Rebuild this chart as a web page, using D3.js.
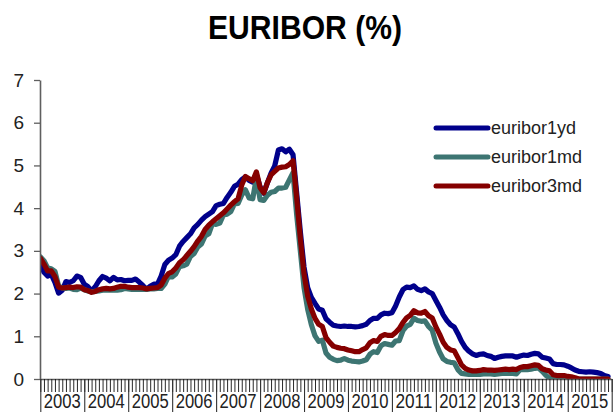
<!DOCTYPE html>
<html>
<head>
<meta charset="utf-8">
<script src="https://cdn.jsdelivr.net/npm/d3@7"></script>
<style>
  body { margin: 0; background: #fff; }
  svg { display: block; font-family: "Liberation Sans", Arial, sans-serif; }
</style>
</head>
<body>
<div id="chart"></div>
<script>
// Monthly values, Jan 2003 .. Dec 2015 (one row per year)
const years = ["2003", "2004", "2005", "2006", "2007", "2008", "2009",
               "2010", "2011", "2012", "2013", "2014", "2015"];

const euribor1yd = [
  2.71, 2.50, 2.41, 2.45, 2.26, 2.01, 2.08, 2.28, 2.26, 2.30, 2.41, 2.38,
  2.22, 2.16, 2.06, 2.16, 2.30, 2.40, 2.36, 2.30, 2.38, 2.32, 2.33, 2.30,
  2.31, 2.31, 2.34, 2.27, 2.19, 2.10, 2.17, 2.22, 2.22, 2.41, 2.68, 2.78,
  2.83, 2.91, 3.11, 3.22, 3.31, 3.40, 3.54, 3.62, 3.72, 3.80, 3.86, 3.92,
  4.06, 4.09, 4.11, 4.25, 4.37, 4.51, 4.56, 4.67, 4.73, 4.65, 4.61, 4.79,
  4.50, 4.35, 4.59, 4.82, 4.99, 5.36, 5.39, 5.32, 5.38, 5.25, 4.35, 3.45,
  2.62, 2.14, 1.91, 1.77, 1.64, 1.61, 1.41, 1.33, 1.26, 1.24, 1.23, 1.24,
  1.23, 1.23, 1.22, 1.23, 1.25, 1.28, 1.37, 1.42, 1.42, 1.50, 1.54, 1.53,
  1.55, 1.71, 1.92, 2.09, 2.15, 2.14, 2.18, 2.10, 2.07, 2.11, 2.04, 2.00,
  1.84, 1.68, 1.50, 1.37, 1.27, 1.22, 1.06, 0.88, 0.74, 0.65, 0.59, 0.55,
  0.58, 0.59, 0.55, 0.53, 0.48, 0.51, 0.53, 0.54, 0.54, 0.54, 0.51, 0.54,
  0.56, 0.55, 0.58, 0.60, 0.59, 0.51, 0.49, 0.47, 0.36, 0.34, 0.34, 0.33,
  0.30, 0.26, 0.21, 0.18, 0.17, 0.16, 0.17, 0.16, 0.15, 0.13, 0.08, 0.06
];

const euribor1md = [
  2.86, 2.77, 2.60, 2.58, 2.52, 2.18, 2.13, 2.12, 2.13, 2.10, 2.09, 2.13,
  2.09, 2.06, 2.04, 2.05, 2.06, 2.08, 2.08, 2.08, 2.08, 2.08, 2.09, 2.12,
  2.11, 2.10, 2.10, 2.10, 2.10, 2.10, 2.11, 2.11, 2.12, 2.12, 2.22, 2.41,
  2.39, 2.46, 2.63, 2.65, 2.69, 2.87, 2.94, 3.09, 3.16, 3.35, 3.40, 3.64,
  3.62, 3.65, 3.84, 3.86, 3.92, 4.10, 4.11, 4.31, 4.43, 4.24, 4.22, 4.71,
  4.20, 4.18, 4.30, 4.37, 4.39, 4.47, 4.47, 4.49, 4.66, 4.83, 3.84, 2.99,
  2.14, 1.63, 1.27, 1.01, 0.88, 0.91, 0.61, 0.51, 0.46, 0.43, 0.44, 0.48,
  0.44, 0.42, 0.41, 0.40, 0.42, 0.45, 0.58, 0.64, 0.62, 0.78, 0.83, 0.81,
  0.79, 0.89, 0.90, 1.13, 1.24, 1.28, 1.42, 1.37, 1.35, 1.36, 1.23, 1.14,
  0.84, 0.63, 0.47, 0.41, 0.39, 0.38, 0.22, 0.13, 0.12, 0.11, 0.11, 0.11,
  0.11, 0.12, 0.12, 0.12, 0.11, 0.12, 0.13, 0.13, 0.13, 0.13, 0.12, 0.22,
  0.22, 0.22, 0.23, 0.25, 0.26, 0.18, 0.09, 0.02, 0.01, 0.00, 0.01, 0.02,
  0.02, 0.01, 0.00, 0.00, 0.00, 0.00, 0.00, 0.00, 0.00, 0.00, 0.00, 0.00
];

const euribor3md = [
  2.83, 2.69, 2.53, 2.53, 2.40, 2.15, 2.13, 2.14, 2.15, 2.14, 2.16, 2.15,
  2.09, 2.07, 2.03, 2.05, 2.09, 2.11, 2.12, 2.11, 2.12, 2.15, 2.17, 2.17,
  2.15, 2.14, 2.14, 2.14, 2.13, 2.11, 2.12, 2.13, 2.14, 2.20, 2.36, 2.47,
  2.51, 2.60, 2.72, 2.79, 2.89, 2.99, 3.10, 3.23, 3.34, 3.50, 3.60, 3.68,
  3.75, 3.82, 3.89, 3.98, 4.07, 4.15, 4.22, 4.54, 4.74, 4.69, 4.64, 4.85,
  4.48, 4.36, 4.60, 4.78, 4.86, 4.94, 4.96, 4.97, 5.02, 5.11, 4.24, 3.29,
  2.46, 1.94, 1.64, 1.42, 1.28, 1.23, 0.97, 0.86, 0.77, 0.74, 0.72, 0.71,
  0.68, 0.66, 0.64, 0.64, 0.69, 0.73, 0.85, 0.90, 0.88, 1.00, 1.04, 1.02,
  1.02, 1.09, 1.18, 1.32, 1.43, 1.49, 1.60, 1.55, 1.54, 1.58, 1.48, 1.43,
  1.22, 1.05, 0.86, 0.74, 0.68, 0.66, 0.50, 0.33, 0.25, 0.21, 0.19, 0.19,
  0.20, 0.22, 0.21, 0.21, 0.20, 0.21, 0.22, 0.23, 0.22, 0.23, 0.22, 0.27,
  0.29, 0.29, 0.31, 0.33, 0.32, 0.24, 0.21, 0.19, 0.10, 0.08, 0.08, 0.08,
  0.06, 0.05, 0.03, 0.00, 0.00, 0.00, 0.00, 0.00, 0.00, 0.00, 0.00, 0.00
];

const seriesNames = ["euribor1yd", "euribor1md", "euribor3md"];
const seriesColors = ["#00008b", "#3d7572", "#850000"];
const yTicks = [0, 1, 2, 3, 4, 5, 6, 7];

// Size of the page
const width = 614;
const height = 412;

const svg = d3.select("#chart")
    .append("svg")
    .attr("width", width)
    .attr("height", height);

// Month index on x (0 = Jan 2003), percent on y
const nMonths = years.length * 12;
const x = d3.scaleLinear()
    .domain([0, nMonths])
    .range([40.3, 611.7]);

const y = d3.scaleLinear()
    .domain([0, 7])
    .range([379, 80]);

// Title
svg.append("text")
    .attr("x", 305)
    .attr("y", 39)
    .attr("text-anchor", "middle")
    .attr("font-size", 33)
    .attr("font-weight", "bold")
    .attr("textLength", 194)
    .attr("lengthAdjust", "spacingAndGlyphs")
    .attr("fill", "#000")
    .text("EURIBOR (%)");

// Lines, clipped at the zero line
svg.append("clipPath")
    .attr("id", "plot-clip")
    .append("rect")
    .attr("x", 40)
    .attr("y", 0)
    .attr("width", width - 40)
    .attr("height", y(0));

const line = d3.line()
    .x((d, i) => x(i))
    .y(d => y(d));

const allSeries = [euribor1yd, euribor1md, euribor3md];

svg.append("g")
    .attr("clip-path", "url(#plot-clip)")
    .selectAll("path")
    .data(allSeries)
    .enter()
    .append("path")
    .attr("fill", "none")
    .attr("stroke", (d, i) => seriesColors[i])
    .attr("stroke-width", 5.2)
    .attr("stroke-linejoin", "round")
    .attr("stroke-linecap", "round")
    .attr("d", line);

// Y axis
const yAxis = svg.append("g")
    .attr("transform", "translate(40,0)")
    .call(d3.axisLeft(y).tickValues(yTicks).tickFormat(d3.format("d"))
        .tickSize(6).tickSizeOuter(0).tickPadding(10));

yAxis.select(".domain").attr("stroke", "#5f5f5f").attr("stroke-width", 1.6);
yAxis.selectAll(".tick line").attr("stroke", "#5f5f5f").attr("stroke-width", 1.3);
yAxis.selectAll(".tick text")
    .attr("font-size", 19)
    .attr("font-family", "Liberation Sans, Arial, sans-serif")
    .attr("fill", "#222");

// X axis: month ticks
const monthAxis = svg.append("g")
    .attr("transform", `translate(0,${y(0)})`)
    .call(d3.axisBottom(x).tickValues(d3.range(0, nMonths + 1)).tickSize(13).tickSizeOuter(0).tickFormat(""));

monthAxis.select(".domain").attr("stroke", "#5f5f5f").attr("stroke-width", 1.6);
monthAxis.selectAll(".tick line").attr("stroke", "#111").attr("stroke-width", 0.9);

// X axis: year separators
const yearAxis = svg.append("g")
    .attr("transform", `translate(0,${y(0)})`)
    .call(d3.axisBottom(x).tickValues(d3.range(0, nMonths + 1, 12)).tickSize(40).tickSizeOuter(0).tickFormat(""));

yearAxis.select(".domain").remove();
yearAxis.selectAll(".tick line").attr("stroke", "#333").attr("stroke-width", 1.1);

// Year labels centred between separators
svg.append("g")
    .selectAll("text")
    .data(years)
    .enter()
    .append("text")
    .attr("x", (d, i) => x(i * 12 + 6))
    .attr("y", 408)
    .attr("text-anchor", "middle")
    .attr("font-size", 20)
    .attr("textLength", 37)
    .attr("lengthAdjust", "spacingAndGlyphs")
    .attr("fill", "#222")
    .text(d => d);

// Legend
const legend = svg.append("g")
    .attr("transform", "translate(436,128)");

seriesNames.forEach((name, i) => {
    legend.append("line")
        .attr("x1", 0)
        .attr("x2", 52)
        .attr("y1", i * 29)
        .attr("y2", i * 29)
        .attr("stroke", seriesColors[i])
        .attr("stroke-width", 5)
        .attr("stroke-linecap", "round");

    legend.append("text")
        .attr("x", 55)
        .attr("y", i * 29)
        .attr("dy", "0.35em")
        .attr("font-size", 18)
        .attr("fill", "#222")
        .text(name);
});
</script>
</body>
</html>
